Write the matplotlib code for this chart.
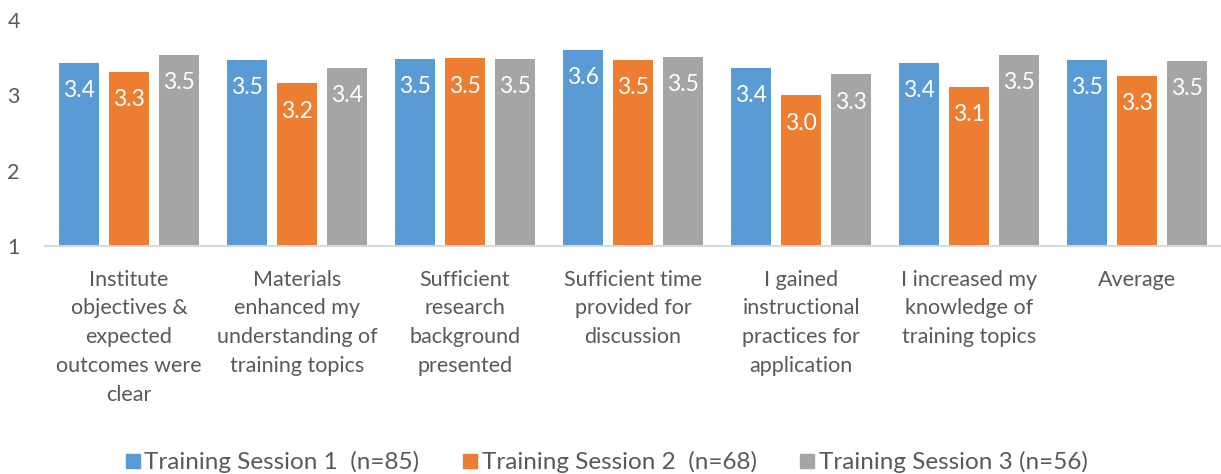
import numpy as np
import matplotlib
matplotlib.use('Agg')
import matplotlib.pyplot as plt
from matplotlib.patches import Patch

plt.rcParams['font.family'] = ['Lato', 'DejaVu Sans']

# dados
categorias = ['Institute\nobjectives &\nexpected\noutcomes were\nclear',
              'Materials\nenhanced my\nunderstanding of\ntraining topics',
              'Sufficient\nresearch\nbackground\npresented',
              'Sufficient time\nprovided for\ndiscussion',
              'I gained\ninstructional\npractices for\napplication',
              'I increased my\nknowledge of\ntraining topics',
              'Average']
sessao1 = [3.43, 3.47, 3.48, 3.60, 3.36, 3.43, 3.47]
sessao2 = [3.31, 3.16, 3.49, 3.47, 3.00, 3.11, 3.26]
sessao3 = [3.54, 3.36, 3.48, 3.51, 3.28, 3.54, 3.46]
legendas = ['Training Session 1  (n=85)', 'Training Session 2  (n=68)', 'Training Session 3 (n=56)']
cores = ['#5B9BD5', '#ED7D31', '#A5A5A5']
texto = '#595959'

fig = plt.figure(figsize=(12.21, 4.74), dpi=100)
ax = fig.add_axes([45/1221, 1 - 246/474, 1 - 45/1221, 226/474])

x = np.arange(len(categorias))
largura = 40/168
passo = 50/168

# barras e rotulos de valor
for k, (serie, cor) in enumerate(zip([sessao1, sessao2, sessao3], cores)):
    pos = x + (k - 1) * passo
    ax.bar(pos, np.array(serie) - 1, largura, bottom=1, color=cor, zorder=2)
    for xi, v in zip(pos, serie):
        ax.annotate(f'{v:.1f}', (xi, v), xytext=(0, -20), textcoords='offset points',
                    ha='center', va='center', color='white', fontsize=16.5)

ax.set_xlim(-0.5, len(categorias) - 0.5)
ax.set_ylim(1, 4)
ax.set_yticks([1, 2, 3, 4])
ax.set_xticks(x)
ax.set_xticklabels(categorias)
ax.tick_params(axis='both', length=0, labelsize=15.5, labelcolor=texto)
ax.tick_params(axis='x', pad=17)
ax.tick_params(axis='y', pad=27)
for t in ax.get_xticklabels():
    t.set_linespacing(1.55)
for lado in ['top', 'right', 'left']:
    ax.spines[lado].set_visible(False)
ax.spines['bottom'].set_color('#D9D9D9')
ax.spines['bottom'].set_linewidth(1.5)
for t in ax.get_yticklabels():
    t.set_horizontalalignment('left')

handles = [Patch(facecolor=c, edgecolor=c) for c in cores]
fig.legend(handles, legendas, loc='lower center', bbox_to_anchor=(0.497, -0.045), ncol=3,
           frameon=False, fontsize=17.5, labelcolor=texto, handlelength=0.55, handleheight=0.55,
           handletextpad=0.2, columnspacing=1.8)

fig.savefig('out.png', dpi=100)
